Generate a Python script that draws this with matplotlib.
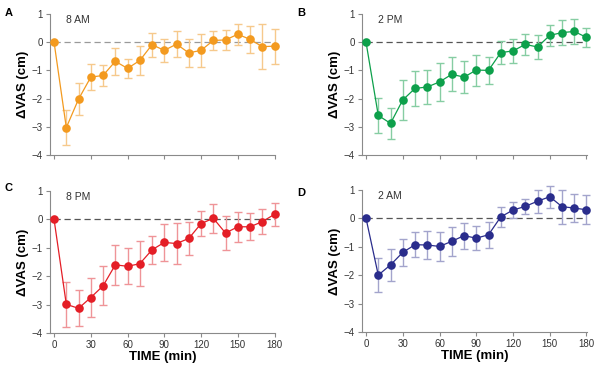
import matplotlib
matplotlib.use("Agg")
import matplotlib.pyplot as plt

plt.rcParams['font.family'] = ['Liberation Sans', 'DejaVu Sans']

tiempo = [0, 10, 20, 30, 40, 50, 60, 70, 80, 90, 100, 110, 120, 130, 140, 150, 160, 170, 180]

am8 = [0, -3.03, -2.02, -1.24, -1.18, -0.68, -0.93, -0.65, -0.09, -0.29, -0.07, -0.38, -0.29, 0.06, 0.08, 0.28, 0.10, -0.16, -0.14]
am8_err = [0, 0.62, 0.57, 0.45, 0.38, 0.47, 0.34, 0.52, 0.42, 0.42, 0.46, 0.50, 0.58, 0.33, 0.35, 0.38, 0.47, 0.79, 0.62]

pm2 = [0, -2.60, -2.88, -2.05, -1.64, -1.59, -1.41, -1.14, -1.24, -0.99, -1.00, -0.37, -0.31, -0.08, -0.17, 0.24, 0.34, 0.38, 0.17]
pm2_err = [0, 0.63, 0.56, 0.71, 0.61, 0.60, 0.66, 0.60, 0.58, 0.55, 0.49, 0.41, 0.44, 0.37, 0.43, 0.38, 0.43, 0.44, 0.35]

pm8 = [0, -2.99, -3.13, -2.75, -2.34, -1.60, -1.65, -1.56, -1.07, -0.81, -0.85, -0.67, -0.15, 0.04, -0.48, -0.26, -0.26, -0.08, 0.18]
pm8_err = [0, 0.78, 0.63, 0.69, 0.69, 0.70, 0.64, 0.79, 0.50, 0.64, 0.73, 0.59, 0.45, 0.51, 0.59, 0.53, 0.48, 0.43, 0.41]

am2 = [0, -2.00, -1.64, -1.20, -0.93, -0.94, -0.99, -0.81, -0.61, -0.70, -0.58, 0.05, 0.29, 0.42, 0.60, 0.76, 0.41, 0.36, 0.30]
am2_err = [0, 0.61, 0.55, 0.47, 0.44, 0.49, 0.50, 0.52, 0.46, 0.43, 0.45, 0.34, 0.28, 0.26, 0.40, 0.39, 0.60, 0.48, 0.51]

paneles = [
    ('A', '8 AM', am8, am8_err, '#F39A1F', '#F6C98C', '#9a9a9a'),
    ('B', '2 PM', pm2, pm2_err, '#0DA04B', '#86CDA3', '#555555'),
    ('C', '8 PM', pm8, pm8_err, '#E41E26', '#EF9498', '#555555'),
    ('D', '2 AM', am2, am2_err, '#2A2D8C', '#A3A4CC', '#555555'),
]

posiciones = [
    [0.0842, 0.579, 0.379, 0.383],
    [0.6094, 0.579, 0.379, 0.383],
    [0.0842, 0.095, 0.379, 0.386],
    [0.6094, 0.098, 0.379, 0.386],
]
letras_pos = [(0.008, 0.965), (0.5, 0.965), (0.008, 0.49), (0.5, 0.475)]

fig = plt.figure(figsize=(5.94, 3.68), dpi=100)

for i, (letra, hora, vals, errs, color, color_err, color_cero) in enumerate(paneles):
    ax = fig.add_axes(posiciones[i])
    ax.plot([0, 180], [0, 0], linestyle=(0, (5, 3)), color=color_cero, linewidth=0.9, zorder=1)
    ax.errorbar(tiempo, vals, yerr=errs, fmt='none', ecolor=color_err,
                elinewidth=1.0, capsize=3, capthick=1.0, zorder=2, clip_on=False)
    ax.plot(tiempo, vals, '-', color=color, linewidth=0.9, zorder=3, clip_on=False)
    ax.plot(tiempo, vals, 'o', color=color, markersize=6.2, markeredgewidth=0, zorder=4, clip_on=False)

    ax.set_xlim(-3.3, 180.5)
    ax.set_ylim(-4, 1)
    ax.set_xticks(range(0, 181, 30))
    ax.set_yticks([-4, -3, -2, -1, 0, 1])
    ax.set_yticklabels(['\u22124', '\u22123', '\u22122', '\u22121', '0', '1'])
    for lado in ['top', 'right']:
        ax.spines[lado].set_visible(False)
    for lado in ['left', 'bottom']:
        ax.spines[lado].set_color('#8a8a8a')
        ax.spines[lado].set_linewidth(0.8)
    ax.tick_params(direction='out', length=3, width=0.8, color='#8a8a8a',
                   labelsize=7, labelcolor='#333333', pad=2)
    if i < 2:
        ax.set_xticklabels([])
    else:
        ax.set_xlabel('TIME (min)', fontsize=9.5, fontweight='bold', labelpad=1)
    ax.set_ylabel('\u0394VAS (cm)', fontsize=9.5, fontweight='bold', labelpad=2)
    ax.text(10, 0.78, hora, fontsize=7.5, color='#333333', ha='left', va='center')
    fig.text(letras_pos[i][0], letras_pos[i][1], letra, fontsize=8,
             fontweight='bold', ha='left', va='center')

fig.savefig('out.png', dpi=100)
